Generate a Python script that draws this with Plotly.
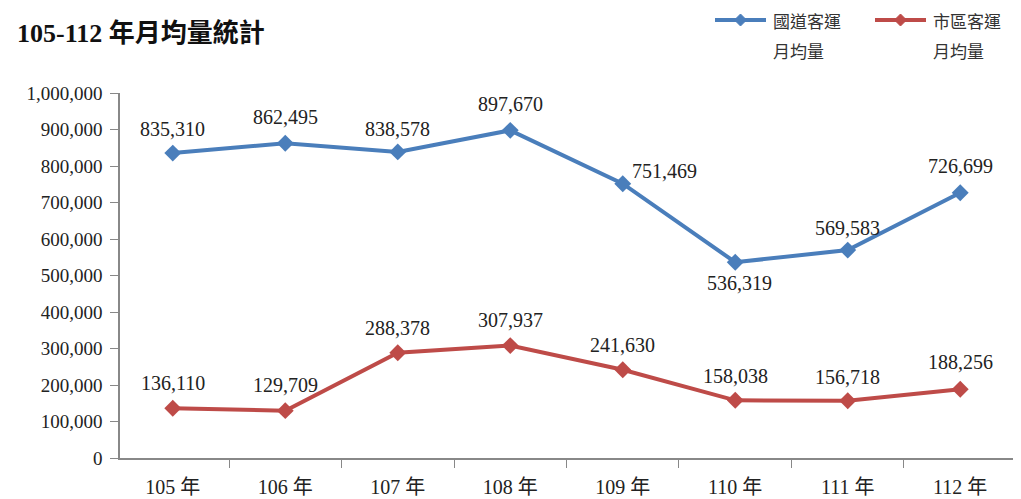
import plotly.graph_objects as go

years = ["105 年", "106 年", "107 年", "108 年", "109 年", "110 年", "111 年", "112 年"]
highway = [835310, 862495, 838578, 897670, 751469, 536319, 569583, 726699]
city = [136110, 129709, 288378, 307937, 241630, 158038, 156718, 188256]
yticks = list(range(0, 1000001, 100000))
series_names = [["國道客運", "月均量"], ["市區客運", "月均量"]]

# label offsets (pixels) relative to each point
highway_dx = [0, 0, 0, 0, 42, 4, 0, 0]
highway_dy = [24, 26, 23, 26, 13, -21, 22, 27]
city_dx = [0] * 8
city_dy = [25, 26, 25, 26, 25, 24, 24, 27]

FONT = "Liberation Serif, 'Noto Sans CJK TC', serif"
CJK = "'Noto Sans CJK TC', sans-serif"
BLUE = "#4A7EBB"
RED = "#BE4B48"
colors = [BLUE, RED]

fig = go.Figure()
for vals, dxs, dys, name, col in [(highway, highway_dx, highway_dy, series_names[0], BLUE),
                                  (city, city_dx, city_dy, series_names[1], RED)]:
    fig.add_trace(go.Scatter(
        x=years, y=vals, name="".join(name), mode="lines+markers",
        line=dict(color=col, width=4), marker=dict(symbol="diamond", size=13, color=col),
        showlegend=False))
    for xv, yv, dx, dy in zip(years, vals, dxs, dys):
        fig.add_annotation(x=xv, y=yv, text=f"{yv:,}", showarrow=False,
                           xshift=dx, yshift=dy, xanchor="center", yanchor="middle",
                           font=dict(family=FONT, size=20, color="#222"))

# legend drawn at the top right (pixel offsets from the plot's top-right corner)
leg_x = [-298, -138]
for i, (name, col) in enumerate(zip(series_names, colors)):
    x0 = leg_x[i]
    fig.add_shape(type="line", xref="paper", yref="paper", xsizemode="pixel", ysizemode="pixel",
                  xanchor=1, yanchor=1, x0=x0, x1=x0 + 51, y0=73, y1=73,
                  line=dict(color=col, width=4))
    cx = x0 + 25.5
    fig.add_shape(type="path", xref="paper", yref="paper", xsizemode="pixel", ysizemode="pixel",
                  xanchor=1, yanchor=1,
                  path=f"M{cx},{79} L{cx + 6},{73} L{cx},{67} L{cx - 6},{73} Z",
                  fillcolor=col, line=dict(color=col, width=1))
    for j, line_txt in enumerate(name):
        fig.add_annotation(text=line_txt, xref="paper", yref="paper", x=1, y=1,
                           xshift=x0 + 56, yshift=73 - 30 * j, xanchor="left", yanchor="middle",
                           showarrow=False, font=dict(family=CJK, size=17, color="#333"))

fig.update_layout(
    width=1013, height=491, paper_bgcolor="white", plot_bgcolor="white",
    margin=dict(l=112, r=8, t=85, b=41),
    font=dict(family=FONT, size=18, color="#222"),
    title=dict(text="<b>105-112 年月均量統計</b>", x=0.009, xanchor="left", y=0.949, yanchor="middle",
               font=dict(family=FONT, size=26, color="#111")),
    showlegend=False,
)
fig.update_xaxes(showgrid=False, showline=True, linecolor="#888", linewidth=1.5,
                 ticks="outside", tickson="boundaries", ticklen=8, tickcolor="#888",
                 ticklabelstandoff=10, automargin=False,
                 tickfont=dict(family=FONT, size=20, color="#222"))
fig.update_yaxes(range=[0, 1000000], tickvals=yticks, tickformat=",", showgrid=False,
                 showline=True, linecolor="#888", linewidth=1.5, ticks="outside", ticklen=8,
                 tickcolor="#888", zeroline=False, ticklabelstandoff=4, automargin=False,
                 tickfont=dict(family=FONT, size=19, color="#222"))
fig.write_html("out.html")
